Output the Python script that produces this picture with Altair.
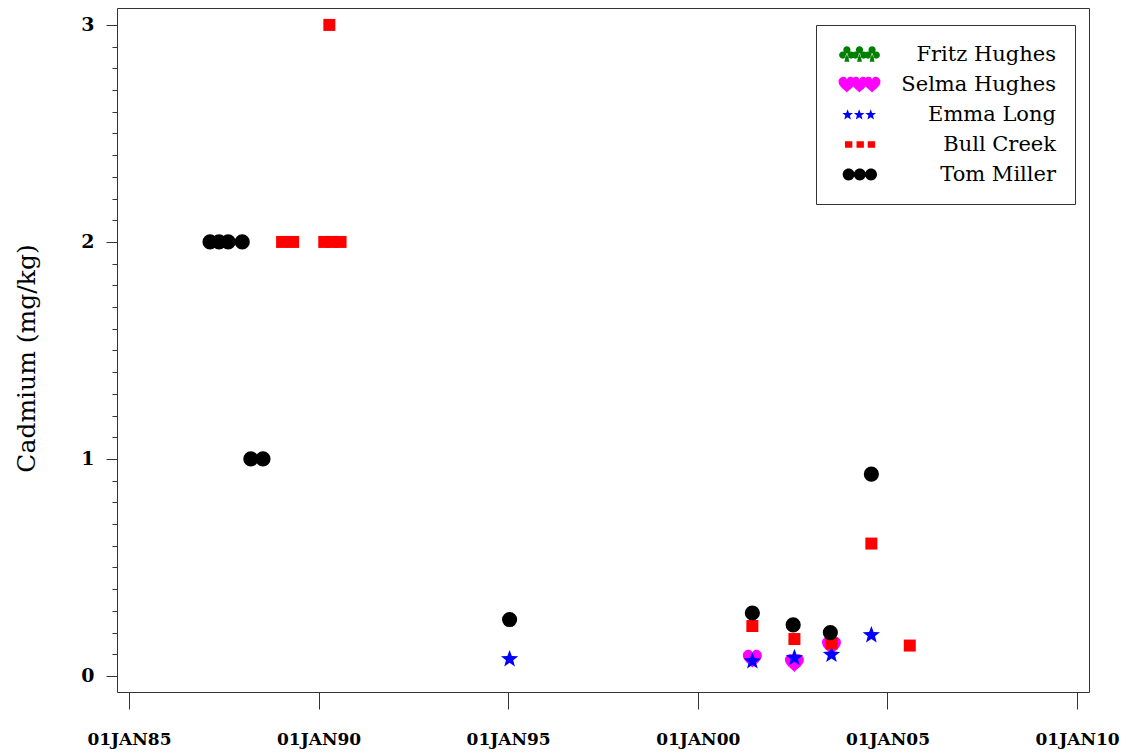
import math
import altair as alt
import pandas as pd

# ---------------- data ----------------
sites = ["Fritz Hughes", "Selma Hughes", "Emma Long", "Bull Creek", "Tom Miller"]
site_colors = ["#008000", "#ff00ff", "#0000ff", "#ff0000", "#000000"]

fritz_dates = []
fritz_values = []

selma_dates = ["2001-06-10", "2002-07-20", "2003-07-12"]
selma_values = [0.08, 0.06, 0.14]

emma_dates = ["1995-01-15", "2001-06-10", "2002-07-20", "2003-07-12", "2004-07-30"]
emma_values = [0.08, 0.07, 0.085, 0.10, 0.19]

bull_dates = ["1989-01-15", "1989-05-01", "1990-02-25", "1990-04-15", "1990-05-12",
              "1990-08-01", "2001-06-10", "2002-07-20", "2003-07-12", "2004-07-30",
              "2005-08-04"]
bull_values = [2, 2, 2, 3, 2, 2, 0.23, 0.17, 0.15, 0.61, 0.14]

tom_dates = ["1987-02-21", "1987-05-19", "1987-08-15", "1987-12-28", "1988-03-20",
             "1988-07-15", "1995-01-15", "2001-06-10", "2002-07-08", "2003-07-01",
             "2004-07-30"]
tom_values = [2, 2, 2, 2, 1, 1, 0.26, 0.29, 0.235, 0.20, 0.93]

tick_years = [1985, 1990, 1995, 2000, 2005, 2010]
y_tick_values = [round(0.1 * k, 1) for k in range(31)]


# ---------------- symbol shapes ----------------
def f(v):
    s = f"{v:.3f}"
    if s.startswith("-0.000"):
        s = "0"
    return s


def star(cx, cy, r):
    pts = []
    for k in range(10):
        a = math.radians(-90 + 36 * k)
        rr = r if k % 2 == 0 else r * 0.42
        pts.append((cx + rr * math.cos(a), cy + rr * math.sin(a)))
    return "M" + "L".join(f"{f(x)},{f(y)}" for x, y in pts) + "Z"


def square(cx, cy, w, h):
    return f"M{f(cx - w / 2)},{f(cy - h / 2)}h{f(w)}v{f(h)}h{f(-w)}Z"


def circle(cx, cy, r):
    return (f"M{f(cx - r)},{f(cy)}a{f(r)},{f(r)} 0 1,0 {f(2 * r)},0"
            f"a{f(r)},{f(r)} 0 1,0 {f(-2 * r)},0Z")


HEART = [
    ("M", [(0, 0.95)]),
    ("C", [(-0.35, 0.6), (-1, 0.2), (-1, -0.35)]),
    ("C", [(-1, -0.8), (-0.5, -1), (-0.25, -0.9)]),
    ("C", [(-0.1, -0.85), (0, -0.7), (0, -0.55)]),
    ("C", [(0, -0.7), (0.1, -0.85), (0.25, -0.9)]),
    ("C", [(0.5, -1), (1, -0.8), (1, -0.35)]),
    ("C", [(1, 0.2), (0.35, 0.6), (0, 0.95)]),
]


def heart(cx, cy, s):
    out = ""
    for cmd, pts in HEART:
        out += cmd + " ".join(f"{f(cx + x * s)},{f(cy + y * s)}" for x, y in pts)
    return out + "Z"


def club(cx, cy, s):
    r = 0.45 * s
    return (circle(cx, cy - 0.5 * s, r) + circle(cx - 0.52 * s, cy + 0.15 * s, r)
            + circle(cx + 0.52 * s, cy + 0.15 * s, r)
            + f"M{f(cx - 0.12 * s)},{f(cy + 0.1 * s)}L{f(cx + 0.12 * s)},{f(cy + 0.1 * s)}"
            f"L{f(cx + 0.3 * s)},{f(cy + 1.0 * s)}L{f(cx - 0.3 * s)},{f(cy + 1.0 * s)}Z")


point_shapes = [club(0, -0.1, 1), heart(0, 0, 1), star(0, 0.05, 1), "square", "circle"]
point_sizes = [360, 360, 330, 144, 230]

legend_shapes = [
    "".join(club(c, -0.1, 1.15) for c in (0.2, 2.0, 3.8)),
    "".join(heart(c, 0, 1.2) for c in (0.2, 2.0, 3.8)),
    "".join(star(c, 0.05, 0.8) for c in (0.3, 1.95, 3.6)),
    "".join(square(c, 0, 1.05, 0.9) for c in (0.45, 2.1, 3.7)),
    "".join(circle(c, 0, 0.85) for c in (0.45, 2.05, 3.65)),
]

# ---------------- table ----------------
series = [
    (fritz_dates, fritz_values),
    (selma_dates, selma_values),
    (emma_dates, emma_values),
    (bull_dates, bull_values),
    (tom_dates, tom_values),
]
rows = []
for i, (dates, vals) in enumerate(series):
    for d, v in zip(dates, vals):
        rows.append({"site": sites[i], "date": d, "value": v,
                     "color": site_colors[i], "shape": point_shapes[i],
                     "size": point_sizes[i]})
df = pd.DataFrame(rows)
df_leg = pd.DataFrame({"site": sites})

FONT = "DejaVu Serif"
MAJOR = "abs(datum.value - round(datum.value)) < 0.001"

x_axis = alt.Axis(
    values=[alt.DateTime(year=y, month=1, date=1, utc=True) for y in tick_years],
    labelExpr="upper(utcFormat(datum.value, '%d%b%y'))",
    title=None, grid=False, domain=False,
    tickSize=17, tickColor="#333", tickWidth=1,
    labelFont=FONT, labelFontWeight="bold", labelFontSize=17, labelColor="black",
    labelPadding=22, labelFlush=False, labelOverlap=False,
)

y_axis = alt.Axis(
    values=y_tick_values,
    labelExpr=MAJOR + " ? format(datum.value, 'd') : ''",
    title="Cadmium (mg/kg)", grid=False, domain=False,
    tickSize={"condition": {"test": MAJOR, "value": 11}, "value": 5},
    tickColor="#333", tickWidth=1,
    labelFont=FONT, labelFontWeight="bold", labelFontSize=19, labelColor="black",
    labelPadding=12, labelOverlap=False,
    titleFont=FONT, titleFontWeight="normal", titleFontSize=25, titleColor="black",
    titleX=-78, titleY=350,
)

x_enc = alt.X(
    "date:T",
    scale=alt.Scale(type="utc", domain=[alt.DateTime(year=1984, month=9, date=8, utc=True),
                                        alt.DateTime(year=2010, month=4, date=26, utc=True)]),
    axis=x_axis,
)
y_enc = alt.Y("value:Q", scale=alt.Scale(domain=[-0.074, 3.078], nice=False, zero=False), axis=y_axis)

points = alt.Chart(df).mark_point(filled=True, opacity=1, strokeWidth=0).encode(
    x=x_enc,
    y=y_enc,
    color=alt.Color("color:N", scale=None),
    shape=alt.Shape("shape:N", scale=None),
    size=alt.Size("size:Q", scale=None),
)

leg = alt.Legend(
    title=None, orient="none", legendX=699, legendY=17,
    strokeColor="#333", fillColor="white", padding=19,
    symbolSize=196, symbolStrokeWidth=0,
    labelFont=FONT, labelFontSize=21, labelColor="black",
    labelAlign="right", labelOffset=200, labelLimit=400, rowPadding=8,
)

legend_layer = alt.Chart(df_leg).transform_filter("false").mark_point(filled=True, opacity=1).encode(
    color=alt.Color("site:N", scale=alt.Scale(domain=sites, range=site_colors), legend=leg),
    shape=alt.Shape("site:N", scale=alt.Scale(domain=sites, range=legend_shapes), legend=leg),
)

chart = alt.layer(points, legend_layer).resolve_scale(
    color="independent", shape="independent"
).properties(
    width=972, height=684,
    autosize=alt.AutoSizeParams(type="none"),
    padding={"left": 109, "top": 0, "right": 31, "bottom": 63},
).configure_view(stroke="#333", strokeWidth=1)

chart.save("out.html", embed_options={"renderer": "svg", "actions": False})
